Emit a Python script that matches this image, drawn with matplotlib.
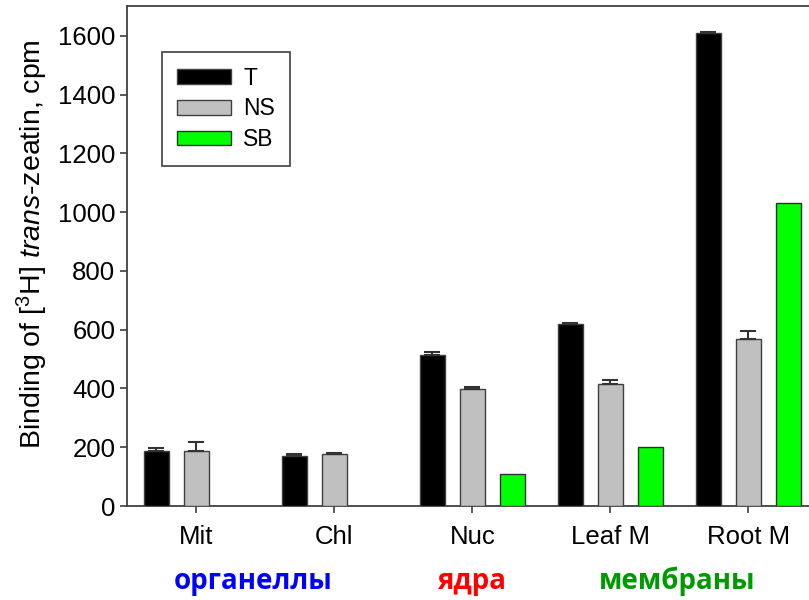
import numpy as np
import matplotlib
matplotlib.use("Agg")
import matplotlib.pyplot as plt
import matplotlib.transforms as mtransforms

plt.rcParams["font.family"] = ["Liberation Sans", "DejaVu Sans"]
plt.rcParams["mathtext.fontset"] = "custom"
plt.rcParams["mathtext.rm"] = "Liberation Sans"
plt.rcParams["mathtext.it"] = "Liberation Sans:italic"

# data
categories = ["Mit", "Chl", "Nuc", "Leaf M", "Root M"]
t_vals = [187, 171, 514, 620, 1609]
t_err = [11, 6, 10, 2, 4]
ns_vals = [188, 177, 397, 414, 567]
ns_err = [31, 4, 7, 15, 28]
sb_vals = [np.nan, np.nan, 110, 202, 1030]
group_labels = ["органеллы", "ядра", "мембраны"]
group_pos = [0.41, 2.0, 3.48]
group_colors = ["#0000ff", "#ff0000", "#009a00"]

x = np.arange(len(categories))
w = 0.18
off = 0.29

fig = plt.figure(figsize=(8.09, 6), dpi=100)
ax = fig.add_axes([126.5 / 809, 94 / 600, 682.5 / 809, 500 / 600])

err_kw = dict(ecolor="#333333", elinewidth=1.5, capsize=5.5, capthick=1.5)
ax.bar(x - off, t_vals, w, color="black", edgecolor="#404040", linewidth=1,
       yerr=[np.zeros(5), t_err], error_kw=err_kw, label="T", zorder=3)
ax.bar(x, ns_vals, w, color="#c0c0c0", edgecolor="#404040", linewidth=1,
       yerr=[np.zeros(5), ns_err], error_kw=err_kw, label="NS", zorder=3)
sb = np.array(sb_vals)
m = ~np.isnan(sb)
ax.bar(x[m] + off, sb[m], w, color="#00ff00", edgecolor="#303030", linewidth=1,
       label="SB", zorder=3)

ax.set_xlim(-0.507, 4.439)
ax.set_ylim(0, 1702)
ax.set_yticks(range(0, 1601, 200))
ax.set_xticks(x)
ax.set_xticklabels(categories)
ax.tick_params(axis="both", labelsize=18.5, direction="out", length=5, width=1.2,
               color="#404040")
ax.tick_params(axis="x", pad=9)
ax.tick_params(axis="y", pad=3)
for s in ["left", "bottom", "top"]:
    ax.spines[s].set_color("#404040")
    ax.spines[s].set_linewidth(1.3)
ax.spines["right"].set_visible(False)

ax.set_ylabel(r"Binding of [$^{3}$H] $\it{trans}$-zeatin, cpm", fontsize=20.5)
ax.yaxis.set_label_coords(-0.112, 0.523)

leg = ax.legend(loc="upper left", bbox_to_anchor=(0.052, 0.908), borderaxespad=0,
                fontsize=16.5, frameon=True, fancybox=False, framealpha=1,
                handlelength=2.35, handleheight=0.62, handletextpad=0.55,
                labelspacing=0.33, borderpad=0.65)
leg.get_frame().set_edgecolor("#404040")
leg.get_frame().set_linewidth(1.2)

trans = mtransforms.blended_transform_factory(ax.transData, ax.transAxes)
for lab, pos, col in zip(group_labels, group_pos, group_colors):
    ax.text(pos, -0.15, lab, transform=trans, ha="center", va="center",
            fontsize=20, fontweight="bold", color=col,
            family=["Open Sans", "DejaVu Sans"])

fig.savefig("out.png", dpi=100)
